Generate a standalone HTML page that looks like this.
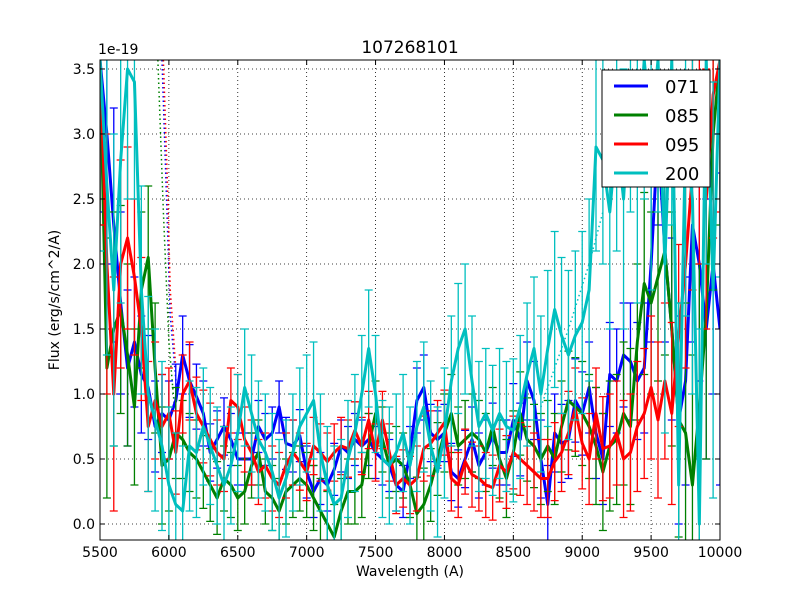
<!DOCTYPE html>
<html><head><meta charset="utf-8"><style>
html,body{margin:0;padding:0;background:#fff;overflow:hidden;width:800px;height:600px;}
svg{display:block;}
svg text{font-family:"DejaVu Sans","Liberation Sans",sans-serif;fill:#000;}
</style></head><body>
<svg id="chart" width="800" height="600" xmlns="http://www.w3.org/2000/svg">
<rect width="800" height="600" fill="#fff"/>
<defs><clipPath id="pc"><rect x="100" y="60" width="620" height="480"/></clipPath></defs>
<g id="grid"></g>
<g id="plot" clip-path="url(#pc)"></g>
<rect x="100" y="60" width="620" height="480" fill="none" stroke="#000" stroke-width="1"/>
<g id="ticks"></g>
<text x="410" y="53" font-size="17" text-anchor="middle">107268101</text>
<text x="98" y="54" font-size="14">1e-19</text>
<text x="410" y="576" font-size="14" text-anchor="middle">Wavelength (A)</text>
<text x="0" y="0" font-size="14" text-anchor="middle" transform="translate(59,300) rotate(-90)">Flux (erg/s/cm^2/A)</text>
<g id="legend">
<rect x="602" y="70" width="108" height="117" fill="#fff" stroke="#000" stroke-width="1"/>
</g>
</svg>
<script>
const wl=[];for(let w=5500;w<=10000;w+=50)wl.push(w);
const seriesNames=["071","085","095","200"];
const colors=["#0000ff","#008000","#ff0000","#00bfbf"];
const s071=[3.6,3.0,2.3,1.7,1.2,1.4,1.15,1.05,0.75,0.85,0.8,0.95,1.3,1.1,0.98,0.85,0.55,0.65,0.75,0.65,0.5,0.5,0.5,0.75,0.65,0.7,0.9,0.62,0.6,0.68,0.4,0.25,0.35,0.3,0.42,0.6,0.55,0.65,0.6,0.65,0.55,0.5,0.45,0.3,0.25,0.55,0.95,1.05,0.7,0.65,0.7,0.4,0.35,0.5,0.65,0.45,0.55,0.68,0.55,0.55,0.8,0.65,1.1,0.95,0.5,0.15,0.7,0.62,0.65,0.95,0.85,1.05,0.7,0.5,1.15,1.1,1.3,1.25,1.1,1.2,2.0,3.0,2.1,1.5,0.8,1.1,2.3,2.0,1.5,2.0,1.5];
const s085=[3.6,1.2,1.5,1.65,1.3,0.9,1.8,2.05,1.2,0.45,0.5,0.7,0.65,0.55,0.5,0.4,0.3,0.2,0.35,0.3,0.2,0.25,0.45,0.55,0.25,0.2,0.1,0.25,0.3,0.35,0.3,0.2,0.1,0.0,-0.1,0.1,0.25,0.25,0.3,0.6,0.85,0.65,0.45,0.5,0.45,0.3,0.08,0.15,0.3,0.5,0.7,0.85,0.6,0.65,0.7,0.65,0.55,0.75,0.5,0.35,0.55,0.85,0.65,0.6,0.5,0.6,0.5,0.75,0.95,0.9,0.85,0.75,0.6,0.4,0.6,0.65,0.85,0.75,1.4,1.85,1.7,1.9,2.1,1.5,0.8,0.7,0.3,0.9,1.6,3.0,3.6];
const s095=[3.6,2.0,1.0,2.0,2.2,1.9,1.5,0.75,0.95,0.75,0.85,0.55,1.0,1.1,0.85,0.75,0.65,0.55,0.5,0.95,0.9,0.65,0.55,0.4,0.45,0.35,0.3,0.45,0.55,0.48,0.4,0.6,0.55,0.48,0.55,0.6,0.58,0.72,0.6,0.8,0.55,0.8,0.55,0.3,0.35,0.3,0.35,0.58,0.62,0.7,0.78,0.35,0.3,0.48,0.38,0.35,0.3,0.28,0.45,0.4,0.55,0.5,0.45,0.4,0.35,0.35,0.48,0.55,0.7,0.88,0.62,0.5,0.85,0.58,0.6,0.7,0.5,0.55,0.75,0.85,1.05,0.8,1.1,0.85,1.45,2.0,2.7,2.9,2.5,3.3,3.6];
const s200=[3.6,2.6,1.8,2.8,3.5,3.4,1.8,1.0,0.8,0.6,0.3,0.15,0.1,0.6,0.55,0.75,0.6,0.45,0.3,0.45,0.7,1.05,0.85,0.65,0.55,0.4,0.2,0.35,0.55,0.75,0.85,0.95,0.55,0.3,0.15,0.2,0.5,0.7,1.0,1.35,1.0,0.5,0.45,0.55,0.7,0.45,0.75,0.9,0.6,0.4,0.7,1.1,1.35,1.5,1.1,0.75,0.85,0.72,0.85,0.75,0.72,0.9,1.15,1.35,1.0,1.35,1.65,1.45,1.3,1.45,1.55,1.8,2.9,2.8,2.4,3.0,2.5,3.4,2.8,3.6,3.0,3.6,2.0,3.6,0.3,3.0,2.5,0.0,3.6,1.8,3.6];
const e071=[1.2,1.0,0.9,0.7,0.6,0.5,0.45,0.4,0.35,0.3,0.3,0.28,0.3,0.28,0.25,0.25,0.22,0.22,0.22,0.2,0.2,0.2,0.2,0.2,0.2,0.2,0.2,0.2,0.2,0.2,0.2,0.2,0.2,0.2,0.2,0.2,0.2,0.2,0.2,0.2,0.2,0.2,0.2,0.2,0.2,0.2,0.25,0.25,0.22,0.22,0.22,0.22,0.22,0.22,0.25,0.25,0.25,0.25,0.25,0.25,0.28,0.28,0.3,0.3,0.3,0.3,0.3,0.3,0.3,0.32,0.32,0.35,0.35,0.35,0.4,0.4,0.4,0.45,0.45,0.5,0.6,0.7,0.7,0.7,0.8,0.8,0.9,0.9,1.0,1.0,1.2];
const e085=[1.3,1.0,0.9,0.8,0.7,0.6,0.6,0.55,0.5,0.45,0.4,0.35,0.3,0.3,0.3,0.28,0.28,0.28,0.25,0.25,0.25,0.25,0.25,0.25,0.25,0.25,0.25,0.25,0.25,0.25,0.25,0.25,0.25,0.25,0.25,0.25,0.25,0.25,0.25,0.25,0.25,0.25,0.25,0.25,0.25,0.25,0.28,0.28,0.28,0.28,0.3,0.3,0.3,0.3,0.3,0.3,0.3,0.3,0.3,0.3,0.32,0.32,0.32,0.32,0.35,0.35,0.35,0.35,0.38,0.38,0.4,0.4,0.45,0.45,0.5,0.5,0.55,0.6,0.6,0.7,0.7,0.8,0.8,0.9,0.9,1.0,1.0,1.1,1.1,1.2,1.3];
const e095=[1.3,1.0,0.9,0.8,0.7,0.6,0.55,0.5,0.45,0.4,0.35,0.32,0.3,0.3,0.28,0.28,0.28,0.25,0.25,0.25,0.25,0.25,0.25,0.25,0.25,0.25,0.25,0.25,0.25,0.22,0.22,0.22,0.22,0.22,0.22,0.22,0.22,0.22,0.22,0.22,0.22,0.22,0.22,0.22,0.22,0.22,0.25,0.25,0.25,0.25,0.25,0.25,0.25,0.25,0.25,0.25,0.25,0.25,0.28,0.28,0.28,0.28,0.3,0.3,0.3,0.3,0.3,0.3,0.32,0.32,0.35,0.35,0.35,0.4,0.4,0.4,0.45,0.45,0.5,0.5,0.55,0.6,0.6,0.7,0.7,0.8,0.9,0.9,1.0,1.1,1.2];
const e200=[1.5,1.3,1.2,1.1,1.0,0.9,0.8,0.75,0.7,0.65,0.6,0.55,0.5,0.5,0.5,0.45,0.45,0.45,0.45,0.45,0.45,0.45,0.45,0.45,0.45,0.45,0.45,0.45,0.45,0.45,0.45,0.45,0.45,0.45,0.45,0.45,0.45,0.45,0.45,0.45,0.45,0.45,0.45,0.45,0.45,0.45,0.5,0.5,0.5,0.5,0.5,0.5,0.5,0.5,0.5,0.5,0.5,0.5,0.5,0.5,0.55,0.55,0.55,0.55,0.6,0.6,0.6,0.6,0.65,0.65,0.7,0.7,0.8,0.8,0.9,0.9,1.0,1.0,1.1,1.1,1.2,1.2,1.3,1.3,1.4,1.4,1.5,1.5,1.6,1.6,1.7];
const xTicks=[5500,6000,6500,7000,7500,8000,8500,9000,9500,10000];
const yTicks=[0.0,0.5,1.0,1.5,2.0,2.5,3.0,3.5];
const xMin=5500,xMax=10000,yMin=-0.123,yMax=3.569;
function X(v){return 100+(v-xMin)/(xMax-xMin)*620;}
function Y(v){return 540-(v-yMin)/(yMax-yMin)*480;}
function C(y){return Math.max(60,Math.min(540,y));}
const NS="http://www.w3.org/2000/svg";
function mk(tag,attrs,parent){const e=document.createElementNS(NS,tag);for(const k in attrs)e.setAttribute(k,attrs[k]);parent.appendChild(e);return e;}
const grid=document.getElementById('grid'),ticks=document.getElementById('ticks'),plot=document.getElementById('plot'),legend=document.getElementById('legend');
xTicks.forEach(t=>{const x=X(t);
 const g=mk('line',{x1:x,x2:x,y1:60,y2:540,stroke:'#000','stroke-dasharray':'1,3','stroke-width':0.8},grid);
 
 mk('line',{x1:x,x2:x,y1:540,y2:535,stroke:'#000'},ticks);mk('line',{x1:x,x2:x,y1:60,y2:65,stroke:'#000'},ticks);
 const tx=mk('text',{x:x,y:557,'font-size':14,'text-anchor':'middle'},ticks);tx.textContent=t;
 });
yTicks.forEach(t=>{const y=Y(t);
 const g=mk('line',{x1:100,x2:720,y1:y,y2:y,stroke:'#000','stroke-dasharray':'1,3','stroke-width':0.8},grid);
 
 mk('line',{x1:100,x2:105,y1:y,y2:y,stroke:'#000'},ticks);mk('line',{x1:720,x2:715,y1:y,y2:y,stroke:'#000'},ticks);
 const tx=mk('text',{x:95,y:y+5,'font-size':14,'text-anchor':'end'},ticks);tx.textContent=t.toFixed(1);
 });
const dotted=[[0,[[5950,3.6],[5980,2.6],[6010,1.6],[6060,1.0]]],[2,[[5960,3.6],[5990,2.6],[6010,1.8],[6050,1.2]]],[1,[[5920,3.6],[5960,2.4],[6000,1.4],[6040,0.9]]],[3,[[8700,0.9],[8900,1.5],[9050,2.0],[9150,2.4]]]];
dotted.forEach(([ci,pts])=>{const p=mk('polyline',{points:pts.map(q=>X(q[0])+','+C(Y(q[1]))).join(' '),fill:'none',stroke:colors[ci],'stroke-width':1.5,'stroke-dasharray':'1.5,3'},plot);
 });
const series=[s071,s085,s095,s200],errs=[e071,e085,e095,e200];
series.forEach((s,i)=>{
 const g=mk('g',{},plot);
 
 
 s.forEach((v,j)=>{const x=X(wl[j]),e=errs[i][j],r1=Y(v-e),r2=Y(v+e),y1=C(r1),y2=C(r2);
  let d=`M${x},${y1}V${y2}`;
  if(r1===y1)d+=`M${x-4},${y1}h8`;
  if(r2===y2)d+=`M${x-4},${y2}h8`;
  const b=mk('path',{d:d,stroke:colors[i],'stroke-width':1.3,fill:'none'},g);
  });
 const l=mk('polyline',{points:s.map((v,j)=>X(wl[j])+','+C(Y(v))).join(' '),fill:'none',stroke:colors[i],'stroke-width':3,'stroke-linejoin':'round'},g);
 
 const ly=86+i*29;
 const ll=mk('line',{x1:614,x2:648,y1:ly,y2:ly,stroke:colors[i],'stroke-width':3},legend);
 
 const lt=mk('text',{x:665,y:ly+7,'font-size':18},legend);lt.textContent=seriesNames[i];
 
});
</script>
</body></html>
